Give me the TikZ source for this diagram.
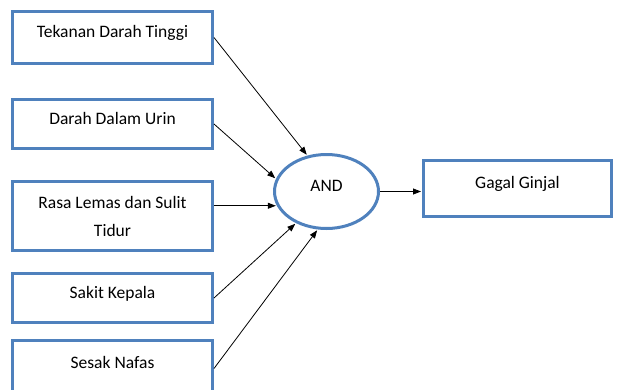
\documentclass[tikz,border=0pt]{standalone}
\usepackage{fontspec}
\setmainfont{Carlito}
\usepackage{tikz}
\usetikzlibrary{arrows.meta, positioning, shapes.geometric}
\definecolor{cBorder}{RGB}{79,129,189}
\tikzset{
	cause/.style ={rectangle, draw=cBorder, line width=3pt, minimum width=200pt, minimum height=49pt, align=center, text height=12pt, text depth=12pt},
	gate/.style  ={ellipse, draw=cBorder, line width=3pt, minimum width=104pt, minimum height=74pt, text height=12pt, text depth=12pt},
	effect/.style={rectangle, draw=cBorder, line width=3pt, minimum width=188pt, minimum height=56pt, text height=12pt, text depth=12pt},
	link/.style  ={-{Triangle[length=8pt,width=6pt]}, line width=0.8pt, shorten >=1pt},
}
\begin{document}
\begin{tikzpicture}[font=\fontsize{17.5pt}{28pt}\selectfont]
	\useasboundingbox (0,0) rectangle (618pt,-389pt);
	\node[cause, minimum height=52pt] (b1) at (112.5pt,-37.5pt) {Tekanan Darah Tinggi};
	\node[cause, below=33pt of b1] (b2) {Darah Dalam Urin};
	\node[cause, below=30pt of b2, minimum height=69pt, text height=40pt, text depth=0pt] (b3) {Rasa Lemas dan Sulit\\Tidur};
	\node[cause, below=20pt of b3] (b4) {Sakit Kepala};
	\node[cause, below=15pt of b4, minimum height=56pt] (b5) {Sesak Nafas};
	\node[gate] (logic) at (326.5pt,-191.5pt) {AND};
	\node[effect] (gg) at (517.5pt,-188.5pt) {Gagal Ginjal};
	\draw[link] (b1.east) -- (logic.118);
	\draw[link] (b2.east) -- (logic.166);
	\draw[link] (b3.east |- logic.196) -- (logic.196);
	\draw[link] (b4.east) -- (logic.226);
	\draw[link] (b5.east) -- (logic.257);
	\draw[link] (logic.east) -- (logic.east -| gg.west);
\end{tikzpicture}
\end{document}
